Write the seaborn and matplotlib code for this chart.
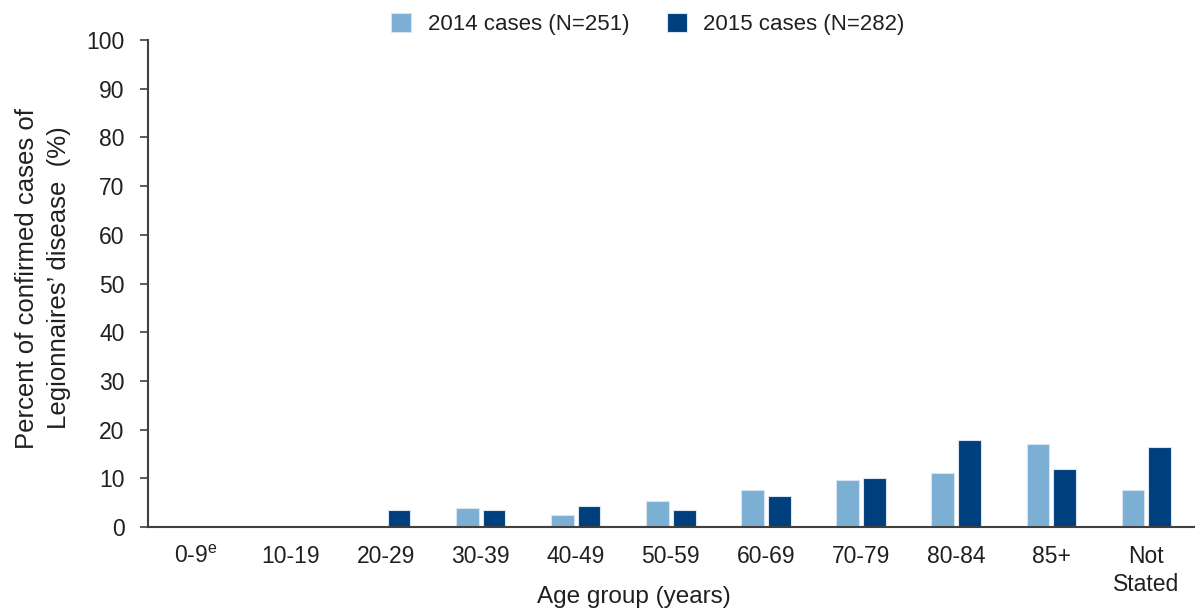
import matplotlib
matplotlib.use("Agg")
import matplotlib.pyplot as plt
import seaborn as sns
import pandas as pd
from matplotlib import font_manager

age_groups = ["0-9$^{\\mathregular{e}}$", "10-19", "20-29", "30-39", "40-49", "50-59",
              "60-69", "70-79", "80-84", "85+", "Not\nStated"]
cases_2014 = [0, 0, 0, 4.0, 2.5, 5.4, 7.7, 9.6, 11.0, 17.0, 7.7]
cases_2015 = [0, 0, 3.5, 3.5, 4.4, 3.5, 6.3, 10.1, 17.9, 11.9, 16.5]
series_names = ["2014 cases (N=251)", "2015 cases (N=282)"]
y_ticks = [0, 10, 20, 30, 40, 50, 60, 70, 80, 90, 100]

sns.set_theme(style="white")
names = {f.name for f in font_manager.fontManager.ttflist}
fam = ["Liberation Sans Narrow", "DejaVu Sans"] if "Liberation Sans Narrow" in names else ["Liberation Sans", "DejaVu Sans"]
plt.rcParams["font.family"] = fam
plt.rcParams["mathtext.fontset"] = "custom"
plt.rcParams["mathtext.rm"] = fam[0]

df = pd.DataFrame({
    "age": age_groups * 2,
    "pct": cases_2014 + cases_2015,
    "series": [series_names[0]] * len(age_groups) + [series_names[1]] * len(age_groups),
})

W, H = 1195, 612
fig = plt.figure(figsize=(W / 100, H / 100), dpi=100)
ax = fig.add_axes([148 / W, 1 - 527 / H, 1 - 148 / W - 0.001, (527 - 40) / H])
sns.barplot(data=df, x="age", y="pct", hue="series", order=age_groups,
            hue_order=series_names, palette=["#7BAFD4", "#003F7D"], saturation=1,
            width=0.56, gap=0.15, edgecolor="#d8e4ef", linewidth=0.8, ax=ax)

ax.set_xlim(-0.5, len(age_groups) - 0.5)
ax.set_ylim(0, 100)
ax.set_yticks(y_ticks)
ax.tick_params(axis="y", labelsize=16.5, left=True, length=5.8, width=1.2,
               color="#404040", labelcolor="#231F20", pad=11)
ax.tick_params(axis="x", labelsize=16.5, bottom=False, labelcolor="#231F20", pad=7)
for lbl in ax.get_xticklabels():
    lbl.set_linespacing(1.25)
for s in ["top", "right"]:
    ax.spines[s].set_visible(False)
for s in ["left", "bottom"]:
    ax.spines[s].set_color("#404040")
    ax.spines[s].set_linewidth(1.5)

ax.set_xlabel("Age group (years)", fontsize=17.5, color="#231F20", va="baseline")
ax.xaxis.set_label_coords(0.5 * (535 + 733) / W * W / (W - 148) - 148 / (W - 148), -(603 - 527) / 487)
ax.set_ylabel("Percent of confirmed cases of\nLegionnaires\u2019 disease  (%)",
              fontsize=18.5, color="#231F20", linespacing=1.4, va="center", ha="center")
ax.yaxis.set_label_coords(-(148 - 43) / (W - 148), (527 - 278) / 487)

leg = ax.legend(loc="center", bbox_to_anchor=(0.478, 1.0 + 16 / 487), ncol=2, frameon=False,
                fontsize=16, handlelength=0.9, handleheight=0.9, columnspacing=1.7,
                handletextpad=0.73, borderaxespad=0.0)
for t in leg.get_texts():
    t.set_color("#231F20")

fig.savefig("out.png", dpi=100)
